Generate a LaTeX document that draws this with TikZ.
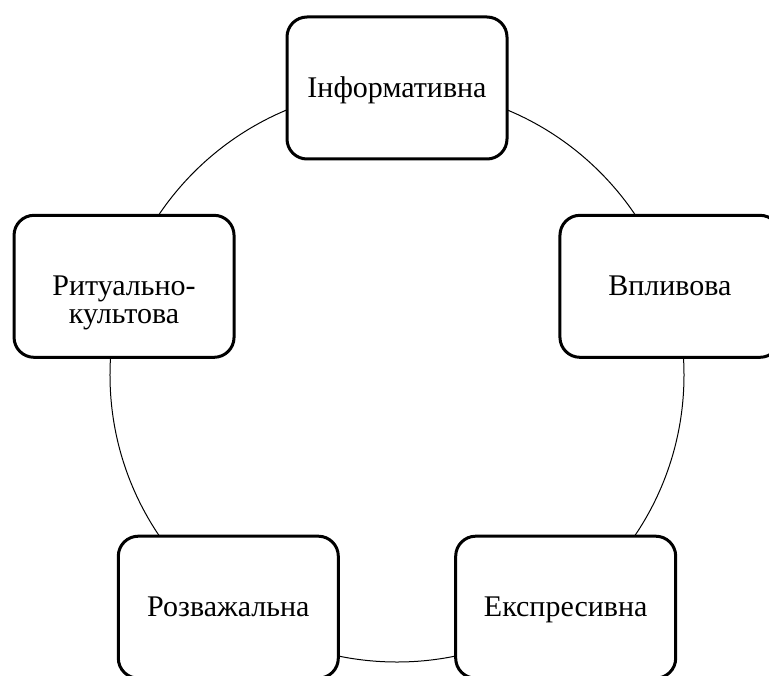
\documentclass[tikz,border=0pt]{standalone}
\usepackage{fontspec}
\setmainfont{Liberation Serif}
\usetikzlibrary{positioning}

\begin{document}
\begin{tikzpicture}[
    x=0.5pt, y=0.5pt,
    func/.style={rectangle, draw, line width=1.5pt, fill=white, rounded corners=10pt,
        minimum width=110pt, minimum height=71pt, text width=100pt, align=center,
        text height=12pt, text depth=2.5pt,
        font=\fontsize{15}{14}\selectfont},
    ring/.style={draw, line width=0.5pt}
]

    % Page area
    \useasboundingbox (-397,-300) rectangle (372,375);

    % Circle behind the boxes
    \path [ring] (0,0) circle (287);

    % Functions on the circle
    \node [func] (inform) at (90:287) {Інформативна};
    \node [func] (vplyv) at (18:287) {Впливова};
    \node [func] (ekspres) at (-54:287) {Експресивна};
    \node [func] (rozvag) at (-126:287) {Розважальна};
    \node [func] (ritual) at (162:287) {Ритуально-\\культова};

\end{tikzpicture}
\end{document}
